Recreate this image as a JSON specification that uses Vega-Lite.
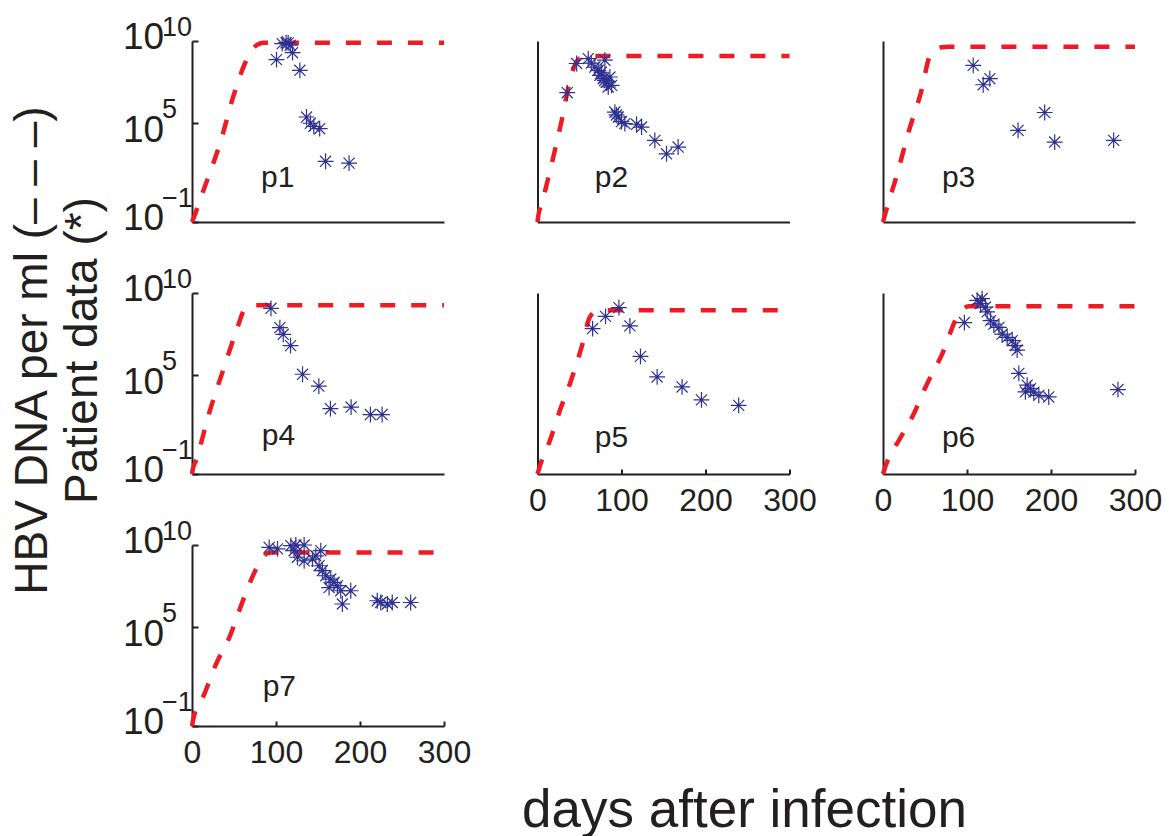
{
  "$schema": "https://vega.github.io/schema/vega-lite/v6.json",
  "background": "white",
  "padding": {"left": 8, "top": 13, "right": 5, "bottom": 5},
  "datasets": {
    "model": [
      {"p":"p1","day":0,"v":0.1},{"p":"p1","day":2.4,"v":0.2},{"p":"p1","day":10,"v":2.5},{"p":"p1","day":19.4,"v":54},{"p":"p1","day":33.3,"v":5750},{"p":"p1","day":49,"v":4.0e6},{"p":"p1","day":63,"v":4.3e8},{"p":"p1","day":71,"v":2.7e9},{"p":"p1","day":78,"v":6.0e9},{"p":"p1","day":85,"v":7.9e9},{"p":"p1","day":300,"v":7.9e9},
      {"p":"p2","day":0,"v":0.1},{"p":"p2","day":1,"v":0.25},{"p":"p2","day":5,"v":1.3},{"p":"p2","day":18.8,"v":890},{"p":"p2","day":28.8,"v":1.5e5},{"p":"p2","day":38.6,"v":4.1e7},{"p":"p2","day":45,"v":4.0e8},{"p":"p2","day":52,"v":1.0e9},{"p":"p2","day":60,"v":1.23e9},{"p":"p2","day":300,"v":1.23e9},
      {"p":"p3","day":0,"v":0.1},{"p":"p3","day":3.2,"v":0.4},{"p":"p3","day":17,"v":87},{"p":"p3","day":31,"v":3.7e4},{"p":"p3","day":44.8,"v":6.3e6},{"p":"p3","day":56.7,"v":1.7e9},{"p":"p3","day":63,"v":3.2e9},{"p":"p3","day":70,"v":4.2e9},{"p":"p3","day":77,"v":4.4e9},{"p":"p3","day":300,"v":4.4e9},
      {"p":"p4","day":0,"v":0.1},{"p":"p4","day":0.8,"v":0.18},{"p":"p4","day":4.8,"v":0.68},{"p":"p4","day":21.4,"v":741},{"p":"p4","day":37,"v":2.0e5},{"p":"p4","day":53,"v":5.4e7},{"p":"p4","day":63,"v":1.12e9},{"p":"p4","day":68,"v":1.6e9},{"p":"p4","day":75,"v":1.78e9},{"p":"p4","day":300,"v":1.78e9},
      {"p":"p5","day":0,"v":0.1},{"p":"p5","day":3.8,"v":0.43},{"p":"p5","day":14.9,"v":11.2},{"p":"p5","day":26.7,"v":741},{"p":"p5","day":38.6,"v":3.1e4},{"p":"p5","day":52.5,"v":5.2e6},{"p":"p5","day":62.4,"v":3.5e8},{"p":"p5","day":70.4,"v":7.9e8},{"p":"p5","day":78,"v":8.9e8},{"p":"p5","day":300,"v":8.9e8},
      {"p":"p6","day":0,"v":0.1},{"p":"p6","day":3.2,"v":0.32},{"p":"p6","day":19,"v":11.2},{"p":"p6","day":34.8,"v":288},{"p":"p6","day":50.7,"v":1.95e4},{"p":"p6","day":70.5,"v":2.0e6},{"p":"p6","day":88.3,"v":3.5e8},{"p":"p6","day":95,"v":1.0e9},{"p":"p6","day":102,"v":1.55e9},{"p":"p6","day":300,"v":1.55e9},
      {"p":"p7","day":0,"v":0.1},{"p":"p7","day":1.5,"v":0.26},{"p":"p7","day":14.6,"v":8.5},{"p":"p7","day":28.5,"v":562},{"p":"p7","day":44.3,"v":2.3e4},{"p":"p7","day":62,"v":6.3e6},{"p":"p7","day":78,"v":5.2e8},{"p":"p7","day":86,"v":2.2e9},{"p":"p7","day":92,"v":3.5e9},{"p":"p7","day":300,"v":3.5e9}
    ],
    "obs": [
      {"p":"p1","day":100.6,"v":7.4e8},{"p":"p1","day":107.4,"v":6.9e9},{"p":"p1","day":112,"v":7.9e9},{"p":"p1","day":114.5,"v":7.6e9},{"p":"p1","day":117,"v":5.5e9},{"p":"p1","day":119.7,"v":1.95e9},{"p":"p1","day":128.4,"v":1.66e8},{"p":"p1","day":136.3,"v":2.4e5},{"p":"p1","day":141,"v":1.0e5},{"p":"p1","day":145,"v":6.5e4},{"p":"p1","day":152,"v":4.7e4},{"p":"p1","day":159,"v":490},{"p":"p1","day":187,"v":380},
      {"p":"p2","day":35.4,"v":7.2e6},{"p":"p2","day":46.6,"v":4.3e8},{"p":"p2","day":60.4,"v":8.5e8},{"p":"p2","day":64,"v":4.5e8},{"p":"p2","day":68.3,"v":2.6e8},{"p":"p2","day":72.3,"v":1.66e8},{"p":"p2","day":74.3,"v":8.1e7},{"p":"p2","day":76,"v":1.26e8},{"p":"p2","day":78.2,"v":5.1e7},{"p":"p2","day":80,"v":4.0e7},{"p":"p2","day":80.2,"v":6.8e8},{"p":"p2","day":82.2,"v":3.2e7},{"p":"p2","day":84.2,"v":1.6e7},{"p":"p2","day":86.2,"v":6.5e7},{"p":"p2","day":88.2,"v":2.0e7},{"p":"p2","day":92.1,"v":4.8e5},{"p":"p2","day":94,"v":3.2e5},{"p":"p2","day":96.1,"v":2.4e5},{"p":"p2","day":100,"v":1.26e5},{"p":"p2","day":104,"v":9.5e4},{"p":"p2","day":117.9,"v":8.7e4},{"p":"p2","day":123.9,"v":5.9e4},{"p":"p2","day":139.7,"v":9100},{"p":"p2","day":153.6,"v":1400},{"p":"p2","day":167.4,"v":3600},
      {"p":"p3","day":107.4,"v":3.3e8},{"p":"p3","day":119.3,"v":2.2e7},{"p":"p3","day":127.2,"v":5.1e7},{"p":"p3","day":160.8,"v":3.7e4},{"p":"p3","day":192.5,"v":4.5e5},{"p":"p3","day":204.4,"v":7200},{"p":"p3","day":274.6,"v":9100},
      {"p":"p4","day":94,"v":1.17e9},{"p":"p4","day":104.6,"v":7.9e7},{"p":"p4","day":108.6,"v":3.1e7},{"p":"p4","day":117.3,"v":6.3e6},{"p":"p4","day":131.6,"v":1.15e5},{"p":"p4","day":151,"v":2.2e4},{"p":"p4","day":164.8,"v":930},{"p":"p4","day":189.4,"v":1170},{"p":"p4","day":212.4,"v":410},{"p":"p4","day":226.3,"v":410},
      {"p":"p5","day":65.6,"v":6.9e7},{"p":"p5","day":81,"v":3.8e8},{"p":"p5","day":96.9,"v":1.29e9},{"p":"p5","day":110,"v":1.0e8},{"p":"p5","day":122.6,"v":1.4e6},{"p":"p5","day":142.4,"v":7.9e4},{"p":"p5","day":172.1,"v":1.95e4},{"p":"p5","day":195.2,"v":3200},{"p":"p5","day":239.5,"v":1480},
      {"p":"p6","day":96.9,"v":1.6e8},{"p":"p6","day":112.1,"v":3.6e9},{"p":"p6","day":116.1,"v":2.3e9},{"p":"p6","day":118,"v":4.6e9},{"p":"p6","day":122,"v":1.4e9},{"p":"p6","day":124,"v":7.1e8},{"p":"p6","day":128,"v":2.1e8},{"p":"p6","day":132,"v":1.3e8},{"p":"p6","day":138,"v":8.1e7},{"p":"p6","day":141.8,"v":3.2e7},{"p":"p6","day":147.8,"v":2.0e7},{"p":"p6","day":153.8,"v":1.26e7},{"p":"p6","day":157.7,"v":6.3e6},{"p":"p6","day":159.7,"v":3.4e6},{"p":"p6","day":161.7,"v":1.3e5},{"p":"p6","day":169.5,"v":9800},{"p":"p6","day":171.6,"v":2.5e4},{"p":"p6","day":175.6,"v":1.55e4},{"p":"p6","day":179.5,"v":9500},{"p":"p6","day":185.5,"v":6000},{"p":"p6","day":197.3,"v":4800},{"p":"p6","day":279.7,"v":1.35e4},
      {"p":"p7","day":91.9,"v":7.1e9},{"p":"p7","day":101.8,"v":5.8e9},{"p":"p7","day":117.7,"v":9.1e9},{"p":"p7","day":121.6,"v":4.5e9},{"p":"p7","day":123.6,"v":1.0e10},{"p":"p7","day":125.5,"v":1.8e9},{"p":"p7","day":133.5,"v":1.0e10},{"p":"p7","day":133.5,"v":1.1e9},{"p":"p7","day":143.4,"v":1.4e9},{"p":"p7","day":147.4,"v":2.2e9},{"p":"p7","day":151.3,"v":5.5e8},{"p":"p7","day":153.3,"v":4.5e9},{"p":"p7","day":155.2,"v":2.8e8},{"p":"p7","day":159.3,"v":1.35e8},{"p":"p7","day":163.2,"v":2.6e7},{"p":"p7","day":165.2,"v":8.5e7},{"p":"p7","day":169.1,"v":5.4e7},{"p":"p7","day":173.1,"v":3.4e7},{"p":"p7","day":177.1,"v":1.66e7},{"p":"p7","day":179,"v":2.6e6},{"p":"p7","day":189,"v":1.66e7},{"p":"p7","day":220.6,"v":4.1e6},{"p":"p7","day":224.7,"v":3.2e6},{"p":"p7","day":232.5,"v":2.6e6},{"p":"p7","day":238.4,"v":3.2e6},{"p":"p7","day":260.3,"v":3.2e6}
    ],
    "labels": [{"p":"p1"},{"p":"p2"},{"p":"p3"},{"p":"p4"},{"p":"p5"},{"p":"p6"},{"p":"p7"}]
  },
  "columns": 3,
  "spacing": {"row": 71, "column": 93.5},
  "bounds": "flush",
  "concat": [
    {"width": 252, "height": 181, "resolve": {"axis": {"y": "independent"}}, "layer": [
      {"data": {"name": "model"}, "transform": [{"filter": "datum.p == 'p1'"}],
       "mark": {"type": "line", "color": "#ed1c24", "strokeWidth": 4.5, "strokeDash": [15, 16], "interpolate": "monotone"},
       "encoding": {
         "x": {"field": "day", "type": "quantitative", "scale": {"domain": [0, 300], "nice": false, "zero": false}, "axis": {"labels": false, "ticks": false, "title": null}},
         "y": {"field": "v", "type": "quantitative", "scale": {"type": "log", "domain": [0.1, 1e10], "nice": false}, "axis": {"orient": "left", "values": [0.1, 100000, 10000000000], "labelExpr": "'10'", "labelFontSize": 37, "labelAlign": "left", "labelPadding": 75.5, "labelOffset": {"condition": {"test": "datum.value > 1000 && datum.value < 10000000", "value": 7}, "value": -4}, "tickSize": -6, "labelOverlap": false, "labelFlush": false, "title": null}}}},
      {"data": {"name": "obs"}, "transform": [{"filter": "datum.p == 'p1'"}],
       "mark": {"type": "point", "shape": "M-1,0L1,0M0,-1L0,1M-0.7,-0.7L0.7,0.7M-0.7,0.7L0.7,-0.7", "size": 250, "filled": false, "color": "#2e3192", "strokeWidth": 1.2, "opacity": 1},
       "encoding": {"x": {"field": "day", "type": "quantitative"}, "y": {"field": "v", "type": "quantitative", "axis": {"orient": "left", "values": [0.1, 100000, 10000000000], "labelExpr": "datum.value < 1 ? '−1' : (datum.value < 1000000 ? '5' : '10')", "labelFontSize": 27, "labelAlign": "left", "labelPadding": 30.5, "labelOffset": {"condition": {"test": "datum.value < 1", "value": -24}, "value": -14}, "ticks": false, "domain": false, "labelOverlap": false, "labelFlush": false, "title": null}}}},
      {"data": {"name": "labels"}, "transform": [{"filter": "datum.p == 'p1'"}],
       "mark": {"type": "text", "fontSize": 30, "font": "Liberation Sans", "color": "#231f20", "align": "center", "baseline": "alphabetic"},
       "encoding": {"text": {"field": "p"}, "x": {"datum": 102, "type": "quantitative"}, "y": {"datum": 13, "type": "quantitative", "axis": null}}}
    ]},
    {"width": 252, "height": 181, "layer": [
      {"data": {"name": "model"}, "transform": [{"filter": "datum.p == 'p2'"}],
       "mark": {"type": "line", "color": "#ed1c24", "strokeWidth": 4.5, "strokeDash": [15, 16], "interpolate": "monotone"},
       "encoding": {
         "x": {"field": "day", "type": "quantitative", "scale": {"domain": [0, 300], "nice": false, "zero": false}, "axis": {"labels": false, "ticks": false, "title": null}},
         "y": {"field": "v", "type": "quantitative", "scale": {"type": "log", "domain": [0.1, 1e10], "nice": false}, "axis": {"labels": false, "ticks": false, "title": null}}}},
      {"data": {"name": "obs"}, "transform": [{"filter": "datum.p == 'p2'"}],
       "mark": {"type": "point", "shape": "M-1,0L1,0M0,-1L0,1M-0.7,-0.7L0.7,0.7M-0.7,0.7L0.7,-0.7", "size": 250, "filled": false, "color": "#2e3192", "strokeWidth": 1.2, "opacity": 1},
       "encoding": {"x": {"field": "day", "type": "quantitative"}, "y": {"field": "v", "type": "quantitative"}}},
      {"data": {"name": "labels"}, "transform": [{"filter": "datum.p == 'p2'"}],
       "mark": {"type": "text", "fontSize": 30, "font": "Liberation Sans", "color": "#231f20", "align": "center", "baseline": "alphabetic"},
       "encoding": {"text": {"field": "p"}, "x": {"datum": 88, "type": "quantitative"}, "y": {"datum": 13, "type": "quantitative"}}}
    ]},
    {"width": 252, "height": 181, "layer": [
      {"data": {"name": "model"}, "transform": [{"filter": "datum.p == 'p3'"}],
       "mark": {"type": "line", "color": "#ed1c24", "strokeWidth": 4.5, "strokeDash": [15, 16], "interpolate": "monotone"},
       "encoding": {
         "x": {"field": "day", "type": "quantitative", "scale": {"domain": [0, 300], "nice": false, "zero": false}, "axis": {"labels": false, "ticks": false, "title": null}},
         "y": {"field": "v", "type": "quantitative", "scale": {"type": "log", "domain": [0.1, 1e10], "nice": false}, "axis": {"labels": false, "ticks": false, "title": null}}}},
      {"data": {"name": "obs"}, "transform": [{"filter": "datum.p == 'p3'"}],
       "mark": {"type": "point", "shape": "M-1,0L1,0M0,-1L0,1M-0.7,-0.7L0.7,0.7M-0.7,0.7L0.7,-0.7", "size": 250, "filled": false, "color": "#2e3192", "strokeWidth": 1.2, "opacity": 1},
       "encoding": {"x": {"field": "day", "type": "quantitative"}, "y": {"field": "v", "type": "quantitative"}}},
      {"data": {"name": "labels"}, "transform": [{"filter": "datum.p == 'p3'"}],
       "mark": {"type": "text", "fontSize": 30, "font": "Liberation Sans", "color": "#231f20", "align": "center", "baseline": "alphabetic"},
       "encoding": {"text": {"field": "p"}, "x": {"datum": 90, "type": "quantitative"}, "y": {"datum": 13, "type": "quantitative"}}}
    ]},
    {"width": 252, "height": 181, "resolve": {"axis": {"y": "independent"}}, "layer": [
      {"data": {"name": "model"}, "transform": [{"filter": "datum.p == 'p4'"}],
       "mark": {"type": "line", "color": "#ed1c24", "strokeWidth": 4.5, "strokeDash": [15, 16], "interpolate": "monotone"},
       "encoding": {
         "x": {"field": "day", "type": "quantitative", "scale": {"domain": [0, 300], "nice": false, "zero": false}, "axis": {"labels": false, "ticks": false, "title": null}},
         "y": {"field": "v", "type": "quantitative", "scale": {"type": "log", "domain": [0.1, 1e10], "nice": false}, "axis": {"orient": "left", "values": [0.1, 100000, 10000000000], "labelExpr": "'10'", "labelFontSize": 37, "labelAlign": "left", "labelPadding": 75.5, "labelOffset": {"condition": {"test": "datum.value > 1000 && datum.value < 10000000", "value": 7}, "value": -4}, "tickSize": -6, "labelOverlap": false, "labelFlush": false,
           "title": ["HBV DNA per ml (– – –)", "Patient data (*)"], "titleFontSize": 46, "titleFontWeight": "normal", "titleX": -146, "titleY": 57, "titleAlign": "center", "titleBaseline": "alphabetic", "titleAngle": 270, "titleLineHeight": 50, "titleColor": "#231f20"}}}},
      {"data": {"name": "obs"}, "transform": [{"filter": "datum.p == 'p4'"}],
       "mark": {"type": "point", "shape": "M-1,0L1,0M0,-1L0,1M-0.7,-0.7L0.7,0.7M-0.7,0.7L0.7,-0.7", "size": 250, "filled": false, "color": "#2e3192", "strokeWidth": 1.2, "opacity": 1},
       "encoding": {"x": {"field": "day", "type": "quantitative"}, "y": {"field": "v", "type": "quantitative", "axis": {"orient": "left", "values": [0.1, 100000, 10000000000], "labelExpr": "datum.value < 1 ? '−1' : (datum.value < 1000000 ? '5' : '10')", "labelFontSize": 27, "labelAlign": "left", "labelPadding": 30.5, "labelOffset": {"condition": {"test": "datum.value < 1", "value": -24}, "value": -14}, "ticks": false, "domain": false, "labelOverlap": false, "labelFlush": false, "title": null}}}},
      {"data": {"name": "labels"}, "transform": [{"filter": "datum.p == 'p4'"}],
       "mark": {"type": "text", "fontSize": 30, "font": "Liberation Sans", "color": "#231f20", "align": "center", "baseline": "alphabetic"},
       "encoding": {"text": {"field": "p"}, "x": {"datum": 103, "type": "quantitative"}, "y": {"datum": 5.5, "type": "quantitative", "axis": null}}}
    ]},
    {"width": 252, "height": 181, "layer": [
      {"data": {"name": "model"}, "transform": [{"filter": "datum.p == 'p5'"}],
       "mark": {"type": "line", "color": "#ed1c24", "strokeWidth": 4.5, "strokeDash": [15, 16], "interpolate": "monotone"},
       "encoding": {
         "x": {"field": "day", "type": "quantitative", "scale": {"domain": [0, 300], "nice": false, "zero": false}, "axis": {"values": [0, 100, 200, 300], "labelFontSize": 32, "labelPadding": 16, "tickSize": -5, "labelFlush": false, "title": null}},
         "y": {"field": "v", "type": "quantitative", "scale": {"type": "log", "domain": [0.1, 1e10], "nice": false}, "axis": {"labels": false, "ticks": false, "title": null}}}},
      {"data": {"name": "obs"}, "transform": [{"filter": "datum.p == 'p5'"}],
       "mark": {"type": "point", "shape": "M-1,0L1,0M0,-1L0,1M-0.7,-0.7L0.7,0.7M-0.7,0.7L0.7,-0.7", "size": 250, "filled": false, "color": "#2e3192", "strokeWidth": 1.2, "opacity": 1},
       "encoding": {"x": {"field": "day", "type": "quantitative"}, "y": {"field": "v", "type": "quantitative"}}},
      {"data": {"name": "labels"}, "transform": [{"filter": "datum.p == 'p5'"}],
       "mark": {"type": "text", "fontSize": 30, "font": "Liberation Sans", "color": "#231f20", "align": "center", "baseline": "alphabetic"},
       "encoding": {"text": {"field": "p"}, "x": {"datum": 88, "type": "quantitative"}, "y": {"datum": 4.4, "type": "quantitative"}}}
    ]},
    {"width": 252, "height": 181, "layer": [
      {"data": {"name": "model"}, "transform": [{"filter": "datum.p == 'p6'"}],
       "mark": {"type": "line", "color": "#ed1c24", "strokeWidth": 4.5, "strokeDash": [15, 16], "interpolate": "monotone"},
       "encoding": {
         "x": {"field": "day", "type": "quantitative", "scale": {"domain": [0, 300], "nice": false, "zero": false}, "axis": {"values": [0, 100, 200, 300], "labelFontSize": 32, "labelPadding": 16, "tickSize": -5, "labelFlush": false, "title": null}},
         "y": {"field": "v", "type": "quantitative", "scale": {"type": "log", "domain": [0.1, 1e10], "nice": false}, "axis": {"labels": false, "ticks": false, "title": null}}}},
      {"data": {"name": "obs"}, "transform": [{"filter": "datum.p == 'p6'"}],
       "mark": {"type": "point", "shape": "M-1,0L1,0M0,-1L0,1M-0.7,-0.7L0.7,0.7M-0.7,0.7L0.7,-0.7", "size": 250, "filled": false, "color": "#2e3192", "strokeWidth": 1.2, "opacity": 1},
       "encoding": {"x": {"field": "day", "type": "quantitative"}, "y": {"field": "v", "type": "quantitative"}}},
      {"data": {"name": "labels"}, "transform": [{"filter": "datum.p == 'p6'"}],
       "mark": {"type": "text", "fontSize": 30, "font": "Liberation Sans", "color": "#231f20", "align": "center", "baseline": "alphabetic"},
       "encoding": {"text": {"field": "p"}, "x": {"datum": 90, "type": "quantitative"}, "y": {"datum": 4.4, "type": "quantitative"}}}
    ]},
    {"width": 252, "height": 181, "resolve": {"axis": {"y": "independent"}}, "layer": [
      {"data": {"name": "model"}, "transform": [{"filter": "datum.p == 'p7'"}],
       "mark": {"type": "line", "color": "#ed1c24", "strokeWidth": 4.5, "strokeDash": [15, 16], "interpolate": "monotone"},
       "encoding": {
         "x": {"field": "day", "type": "quantitative", "scale": {"domain": [0, 300], "nice": false, "zero": false}, "axis": {"values": [0, 100, 200, 300], "labelFontSize": 32, "labelPadding": 16, "tickSize": -5, "labelFlush": false,
           "title": "days after infection", "titleFontSize": 53, "titleFontWeight": "normal", "titleX": 552, "titleY": 100, "titleAlign": "center", "titleBaseline": "alphabetic", "titleColor": "#231f20"}},
         "y": {"field": "v", "type": "quantitative", "scale": {"type": "log", "domain": [0.1, 1e10], "nice": false}, "axis": {"orient": "left", "values": [0.1, 100000, 10000000000], "labelExpr": "'10'", "labelFontSize": 37, "labelAlign": "left", "labelPadding": 75.5, "labelOffset": {"condition": {"test": "datum.value > 1000 && datum.value < 10000000", "value": 7}, "value": -4}, "tickSize": -6, "labelOverlap": false, "labelFlush": false, "title": null}}}},
      {"data": {"name": "obs"}, "transform": [{"filter": "datum.p == 'p7'"}],
       "mark": {"type": "point", "shape": "M-1,0L1,0M0,-1L0,1M-0.7,-0.7L0.7,0.7M-0.7,0.7L0.7,-0.7", "size": 250, "filled": false, "color": "#2e3192", "strokeWidth": 1.2, "opacity": 1},
       "encoding": {"x": {"field": "day", "type": "quantitative"}, "y": {"field": "v", "type": "quantitative", "axis": {"orient": "left", "values": [0.1, 100000, 10000000000], "labelExpr": "datum.value < 1 ? '−1' : (datum.value < 1000000 ? '5' : '10')", "labelFontSize": 27, "labelAlign": "left", "labelPadding": 30.5, "labelOffset": {"condition": {"test": "datum.value < 1", "value": -24}, "value": -14}, "ticks": false, "domain": false, "labelOverlap": false, "labelFlush": false, "title": null}}}},
      {"data": {"name": "labels"}, "transform": [{"filter": "datum.p == 'p7'"}],
       "mark": {"type": "text", "fontSize": 30, "font": "Liberation Sans", "color": "#231f20", "align": "center", "baseline": "alphabetic"},
       "encoding": {"text": {"field": "p"}, "x": {"datum": 104, "type": "quantitative"}, "y": {"datum": 6.9, "type": "quantitative", "axis": null}}}
    ]}
  ],
  "config": {
    "font": "Liberation Sans",
    "view": {"stroke": null},
    "axis": {"grid": false, "domainColor": "#231f20", "domainWidth": 2, "tickColor": "#231f20", "tickWidth": 2, "labelColor": "#231f20", "labelFont": "Liberation Sans", "titleFont": "Liberation Sans"}
  }
}
